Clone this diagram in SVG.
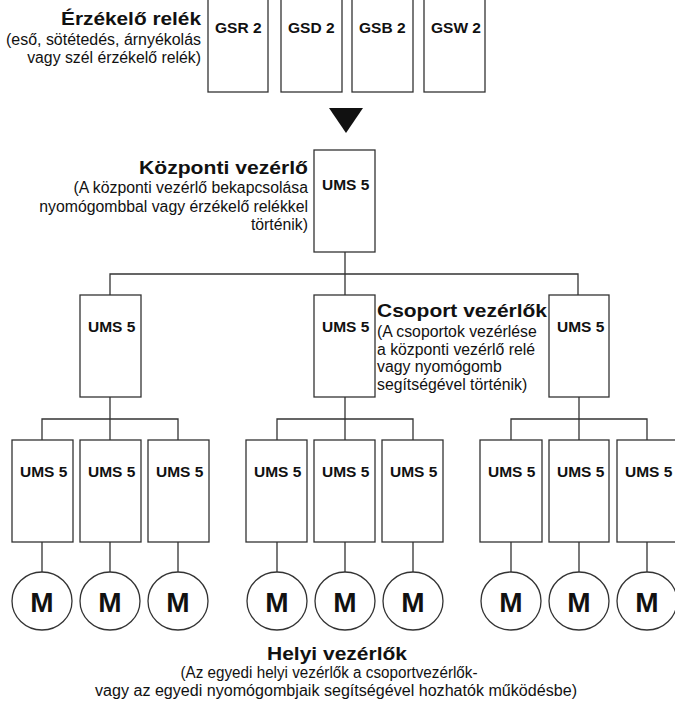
<svg xmlns="http://www.w3.org/2000/svg" width="675" height="703" viewBox="0 0 675 703">
<style>
.box{fill:#fff;stroke:#333;stroke-width:1.3}
.ln{fill:none;stroke:#333;stroke-width:1.3}
.mot{fill:#fff;stroke:#333;stroke-width:1.3}
.lbl{font-family:"Liberation Sans",Arial,sans-serif;font-weight:bold;font-size:15.5px;fill:#111}
.m{font-family:"Liberation Sans",Arial,sans-serif;font-weight:bold;font-size:28px;fill:#111;text-anchor:middle}
.hd{font-family:"Liberation Sans",Arial,sans-serif;font-weight:bold;font-size:19px;fill:#111}
.sub{font-family:"Liberation Sans",Arial,sans-serif;font-size:15.8px;fill:#111}
.r{text-anchor:end}
.c{text-anchor:middle}
</style>
<rect width="675" height="703" fill="#fff"/>
<g id="connectors">
<polygon points="329,108 363,108 346,133" fill="#111"/>
<path class="ln" d="M345,252V274M110,295V274H578V295M345,274V295"/>
<path class="ln" d="M110,397V419M42,440V419H178V440M110,419V440"/>
<path class="ln" d="M345,397V419M277,440V419H413V440M345,419V440"/>
<path class="ln" d="M579,397V419M511,440V419H647V440M579,419V440"/>
<path class="ln" d="M42,542V572M110,542V572M178,542V572M277,542V572M345,542V572M413,542V572M511,542V572M579,542V572M647,542V572"/>
</g>
<g id="sensor-label">
<text class="hd r" x="201" y="25" textLength="140" lengthAdjust="spacingAndGlyphs">Érzékelő relék</text>
<text class="sub r" x="201" y="45" textLength="195" lengthAdjust="spacingAndGlyphs">(eső, sötétedés, árnyékolás</text>
<text class="sub r" x="201" y="63">vagy szél érzékelő relék)</text>
</g>
<g id="gsr2"><rect class="box" x="208" y="-5" width="60" height="97"/><text class="lbl" x="215" y="33">GSR 2</text></g>
<g id="gsd2"><rect class="box" x="281" y="-5" width="61" height="97"/><text class="lbl" x="288" y="33">GSD 2</text></g>
<g id="gsb2"><rect class="box" x="352" y="-5" width="61" height="97"/><text class="lbl" x="359" y="33">GSB 2</text></g>
<g id="gsw2"><rect class="box" x="424" y="-5" width="61" height="97"/><text class="lbl" x="431" y="33">GSW 2</text></g>
<g id="central-label">
<text class="hd r" x="308" y="174" textLength="169" lengthAdjust="spacingAndGlyphs">Központi vezérlő</text>
<text class="sub r" x="308" y="193">(A központi vezérlő bekapcsolása</text>
<text class="sub r" x="308" y="212">nyomógombbal vagy érzékelő relékkel</text>
<text class="sub r" x="308" y="230">történik)</text>
</g>
<g id="central"><rect class="box" x="314" y="150" width="61" height="102"/><text class="lbl" x="322" y="190">UMS 5</text></g>
<g id="group1"><rect class="box" x="80" y="295" width="61" height="102"/><text class="lbl" x="88" y="332">UMS 5</text></g>
<g id="group2"><rect class="box" x="314" y="295" width="61" height="102"/><text class="lbl" x="322" y="332">UMS 5</text></g>
<g id="group3"><rect class="box" x="549" y="295" width="60" height="102"/><text class="lbl" x="557" y="332">UMS 5</text></g>
<g id="group-label">
<text class="hd" x="377" y="317" textLength="170" lengthAdjust="spacingAndGlyphs">Csoport vezérlők</text>
<text class="sub" x="377" y="337">(A csoportok vezérlése</text>
<text class="sub" x="377" y="355">a központi vezérlő relé</text>
<text class="sub" x="377" y="372">vagy nyomógomb</text>
<text class="sub" x="377" y="390">segítségével történik)</text>
</g>
<g id="local1"><rect class="box" x="12" y="440" width="61" height="102"/><text class="lbl" x="20" y="477">UMS 5</text></g>
<g id="local2"><rect class="box" x="80" y="440" width="61" height="102"/><text class="lbl" x="88" y="477">UMS 5</text></g>
<g id="local3"><rect class="box" x="148" y="440" width="61" height="102"/><text class="lbl" x="156" y="477">UMS 5</text></g>
<g id="local4"><rect class="box" x="246" y="440" width="61" height="102"/><text class="lbl" x="254" y="477">UMS 5</text></g>
<g id="local5"><rect class="box" x="314" y="440" width="61" height="102"/><text class="lbl" x="322" y="477">UMS 5</text></g>
<g id="local6"><rect class="box" x="382" y="440" width="61" height="102"/><text class="lbl" x="390" y="477">UMS 5</text></g>
<g id="local7"><rect class="box" x="480" y="440" width="62" height="102"/><text class="lbl" x="488" y="477">UMS 5</text></g>
<g id="local8"><rect class="box" x="549" y="440" width="60" height="102"/><text class="lbl" x="557" y="477">UMS 5</text></g>
<g id="local9"><rect class="box" x="617" y="440" width="62" height="102"/><text class="lbl" x="625" y="477">UMS 5</text></g>
<g id="motor1"><ellipse class="mot" cx="42" cy="601" rx="30" ry="29"/><text class="m" x="42" y="612">M</text></g>
<g id="motor2"><ellipse class="mot" cx="110" cy="601" rx="30" ry="29"/><text class="m" x="110" y="612">M</text></g>
<g id="motor3"><ellipse class="mot" cx="178" cy="601" rx="30" ry="29"/><text class="m" x="178" y="612">M</text></g>
<g id="motor4"><ellipse class="mot" cx="277" cy="601" rx="30" ry="29"/><text class="m" x="277" y="612">M</text></g>
<g id="motor5"><ellipse class="mot" cx="345" cy="601" rx="30" ry="29"/><text class="m" x="345" y="612">M</text></g>
<g id="motor6"><ellipse class="mot" cx="413" cy="601" rx="30" ry="29"/><text class="m" x="413" y="612">M</text></g>
<g id="motor7"><ellipse class="mot" cx="511" cy="601" rx="30" ry="29"/><text class="m" x="511" y="612">M</text></g>
<g id="motor8"><ellipse class="mot" cx="579" cy="601" rx="30" ry="29"/><text class="m" x="579" y="612">M</text></g>
<g id="motor9"><ellipse class="mot" cx="647" cy="601" rx="30" ry="29"/><text class="m" x="647" y="612">M</text></g>
<g id="local-label">
<text class="hd c" x="337" y="660" textLength="140" lengthAdjust="spacingAndGlyphs">Helyi vezérlők</text>
<text class="sub c" x="329" y="678" textLength="297" lengthAdjust="spacingAndGlyphs">(Az egyedi helyi vezérlők a csoportvezérlők-</text>
<text class="sub c" x="336" y="696" textLength="482" lengthAdjust="spacingAndGlyphs">vagy az egyedi nyomógombjaik segítségével hozhatók működésbe)</text>
</g>
</svg>
